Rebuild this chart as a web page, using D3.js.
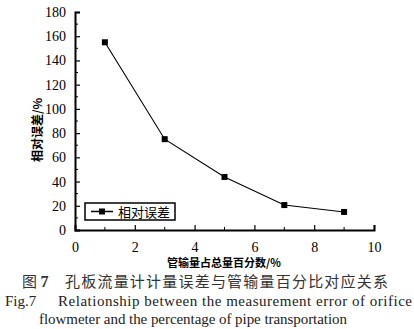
<!DOCTYPE html>
<html><head><meta charset="utf-8">
<script src="https://cdn.jsdelivr.net/npm/d3@7"></script>
<style>body{margin:0;background:#fff}svg{display:block}</style>
</head><body>
<script>
const xValues = [1, 3, 5, 7, 9];
const errorValues = [155, 75, 43.8, 20.6, 14.9];
const xTicks = [0, 2, 4, 6, 8, 10];
const yTicks = [0, 20, 40, 60, 80, 100, 120, 140, 160, 180];
const seriesName = "相对误差";
const xLabel = "管输量占总量百分数/%";
const yLabel = "相对误差/%";
const captionCn = "孔板流量计计量误差与管输量百分比对应关系";
const captionEn1 = "Relationship between the measurement error of orifice";
const captionEn2 = "flowmeter and the percentage of pipe transportation";

const W = 414, H = 329;
const svg = d3.select("body").append("svg").attr("width", W).attr("height", H);
const x = d3.scaleLinear().domain([0, 10]).range([75, 374]);
const y = d3.scaleLinear().domain([0, 180]).range([230, 12]);
const serif = "'Liberation Serif','Times New Roman',serif";
const cjk = "'Noto Sans CJK SC',sans-serif";

// minor ticks
svg.append("g").selectAll("line").data(d3.range(10, 180, 20)).join("line")
  .attr("x1", 75).attr("x2", 78).attr("y1", d => y(d)).attr("y2", d => y(d))
  .attr("stroke", "#000").attr("stroke-width", 1);
svg.append("g").selectAll("line").data(d3.range(1, 10, 2)).join("line")
  .attr("x1", d => x(d)).attr("x2", d => x(d)).attr("y1", 230).attr("y2", 227)
  .attr("stroke", "#000").attr("stroke-width", 1);

const yAxis = svg.append("g").attr("transform", "translate(75,0)")
  .call(d3.axisLeft(y).tickValues(yTicks).tickSize(-5).tickPadding(9));
const xAxis = svg.append("g").attr("transform", "translate(0,230)")
  .call(d3.axisBottom(x).tickValues(xTicks).tickSize(-5).tickPadding(9));
[yAxis, xAxis].forEach(g => {
  g.attr("font-family", serif).attr("font-size", 14);
  g.select(".domain").attr("stroke-width", 2);
  g.selectAll(".tick line").attr("stroke-width", 1.2);
  g.selectAll("text").style("font-family", serif).style("font-size", "14px").attr("fill", "#000");
});
xAxis.selectAll("text").attr("dy", "0.9em");

// line
svg.append("path").datum(xValues.map((d, i) => [d, errorValues[i]]))
  .attr("fill", "none").attr("stroke", "#000").attr("stroke-width", 1.1)
  .attr("d", d3.line().x(d => x(d[0])).y(d => y(d[1])));
svg.append("g").selectAll("rect").data(xValues.map((d, i) => [d, errorValues[i]])).join("rect")
  .attr("x", d => x(d[0]) - 3).attr("y", d => y(d[1]) - 3).attr("width", 6).attr("height", 6)
  .attr("fill", "#000");

// legend
const lg = svg.append("g");
lg.append("rect").attr("x", 85).attr("y", 203).attr("width", 90).attr("height", 17)
  .attr("fill", "#fff").attr("stroke", "#000").attr("stroke-width", 1.5);
lg.append("line").attr("x1", 91).attr("x2", 113).attr("y1", 211.5).attr("y2", 211.5)
  .attr("stroke", "#000").attr("stroke-width", 1.5);
lg.append("rect").attr("x", 99).attr("y", 208.5).attr("width", 6).attr("height", 6).attr("fill", "#000");
lg.append("text").attr("x", 118).attr("y", 216.5).text(seriesName)
  .attr("font-family", cjk).attr("font-size", 13).attr("fill", "#000");

// axis labels
svg.append("text").attr("transform", "translate(42,130) rotate(-90)").attr("text-anchor", "middle")
  .text(yLabel).attr("font-family", cjk).attr("font-weight", "bold").attr("font-size", 12);
svg.append("text").attr("x", 224).attr("y", 267).attr("text-anchor", "middle")
  .text(xLabel).attr("font-family", cjk).attr("font-weight", "bold").attr("font-size", 11);

// captions
const c1 = svg.append("text").attr("y", 287).attr("font-size", 15).attr("fill", "#333");
c1.append("tspan").attr("x", 22).attr("font-family", cjk).text("图 ");
c1.append("tspan").attr("font-family", serif).attr("font-weight", "bold").attr("font-size", 16).text("7");
c1.append("tspan").attr("x", 65).attr("font-family", cjk).attr("textLength", 323).text(captionCn);
svg.append("text").attr("x", 5).attr("y", 306).attr("font-family", serif).attr("font-size", 15)
  .attr("fill", "#222").text("Fig.7");
svg.append("text").attr("x", 58).attr("y", 306).attr("font-family", serif).attr("font-size", 15)
  .attr("fill", "#222").attr("textLength", 354).text(captionEn1);
svg.append("text").attr("x", 39).attr("y", 324).attr("font-family", serif).attr("font-size", 15)
  .attr("fill", "#222").attr("textLength", 308).text(captionEn2);
</script>
</body></html>
